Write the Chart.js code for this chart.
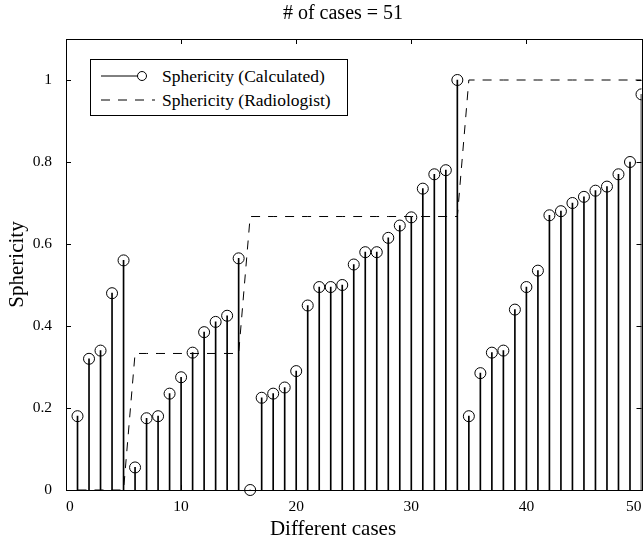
<!DOCTYPE html>
<html>
<head>
<meta charset="utf-8">
<script src="https://cdn.jsdelivr.net/npm/chart.js@4.4.1/dist/chart.umd.min.js"></script>
<style>
  html, body { margin: 0; padding: 0; background: #fff; }
  #wrap { position: relative; width: 643px; height: 542px; }
  #legend {
    position: absolute; left: 90px; top: 59px; width: 256px; height: 55px;
    border: 1px solid #000; background: #fff;
    font-family: "Liberation Serif", "Times New Roman", serif; font-size: 17.5px; color: #000;
  }
  .row { position: absolute; left: 0; height: 20px; width: 100%; }
  .row svg { position: absolute; left: 8px; top: 0; }
  .row span { position: absolute; left: 71px; top: 0; line-height: 20px; white-space: nowrap; }
</style>
</head>
<body>
<div id="wrap">
  <canvas id="c" width="643" height="542"></canvas>
  <div id="legend">
    <div class="row" style="top:6px">
      <svg width="52" height="20"><line x1="2" y1="10" x2="43" y2="10" stroke="#000" stroke-width="1"/><circle cx="43" cy="10" r="4.5" fill="#fff" stroke="#000" stroke-width="1"/></svg>
      <span>Sphericity (Calculated)</span>
    </div>
    <div class="row" style="top:30px">
      <svg width="60" height="20"><line x1="2" y1="10" x2="56" y2="10" stroke="#000" stroke-width="1" stroke-dasharray="9 8"/></svg>
      <span>Sphericity (Radiologist)</span>
    </div>
  </div>
</div>
<script>
// cases 1..50 (axis shows 0..50)
const cases = [1,2,3,4,5,6,7,8,9,10,11,12,13,14,15,16,17,18,19,20,21,22,23,24,25,
  26,27,28,29,30,31,32,33,34,35,36,37,38,39,40,41,42,43,44,45,46,47,48,49,50];
const calculated = [0.18,0.32,0.34,0.48,0.56,0.055,0.175,0.18,0.235,0.275,0.335,0.385,0.41,0.425,0.565,
  0.0,0.225,0.235,0.25,0.29,0.45,0.495,0.495,0.50,0.55,0.58,0.58,0.615,0.645,0.665,0.735,0.77,0.78,1.0,
  0.18,0.285,0.335,0.34,0.44,0.495,0.535,0.67,0.68,0.70,0.715,0.73,0.74,0.77,0.80,0.965];
const radiologist = [0,0,0,0,0,0.333,0.333,0.333,0.333,0.333,0.333,0.333,0.333,0.333,0.333,
  0.667,0.667,0.667,0.667,0.667,0.667,0.667,0.667,0.667,0.667,0.667,0.667,0.667,0.667,0.667,0.667,0.667,0.667,0.667,
  1,1,1,1,1,1,1,1,1,1,1,1,1,1,1,1];
const xTicks = [0,10,20,30,40,50];
const yTicks = [0,0.2,0.4,0.6,0.8,1];
const titleText = '# of cases = 51';
const xLabel = 'Different cases';

const serif = 'Liberation Serif, Times New Roman, serif';
Chart.defaults.font.family = serif;
Chart.defaults.color = '#000';
const pts = arr => cases.map((x, i) => ({x: x, y: arr[i]}));

// box around plot + inward ticks on all four sides
const frame = {
  id: 'frame',
  afterDraw(chart) {
    const {ctx, chartArea: a, scales: {x, y}} = chart;
    ctx.save();
    ctx.strokeStyle = '#000';
    ctx.lineWidth = 1;
    ctx.strokeRect(Math.round(a.left) + 0.5, Math.round(a.top) + 0.5,
      Math.round(a.right - a.left), Math.round(a.bottom - a.top));
    const len = 5;
    ctx.beginPath();
    xTicks.forEach(v => {
      const px = Math.round(x.getPixelForValue(v)) + 0.5;
      ctx.moveTo(px, a.bottom); ctx.lineTo(px, a.bottom - len);
      ctx.moveTo(px, a.top); ctx.lineTo(px, a.top + len);
    });
    yTicks.forEach(v => {
      const py = Math.round(y.getPixelForValue(v)) + 0.5;
      ctx.moveTo(a.left, py); ctx.lineTo(a.left + len, py);
      ctx.moveTo(a.right, py); ctx.lineTo(a.right - len, py);
    });
    ctx.stroke();

    // title and x label, placed as in the original figure
    ctx.fillStyle = '#000';
    ctx.textAlign = 'center';
    ctx.textBaseline = 'middle';
    ctx.font = '20px ' + serif;
    ctx.fillText(titleText, a.left + 277, a.top - 25);
    ctx.font = '21px ' + serif;
    ctx.fillText(xLabel, a.left + 267, a.bottom + 39);
    ctx.restore();
  }
};

new Chart(document.getElementById('c'), {
  type: 'bar',
  data: {
    datasets: [
      {
        type: 'line', label: 'Sphericity (Radiologist)', data: pts(radiologist),
        borderColor: '#000', borderWidth: 1, borderDash: [9, 8], pointRadius: 0,
        fill: false, tension: 0, order: 3
      },
      {
        type: 'bar', label: 'stems', data: pts(calculated),
        backgroundColor: '#000', borderWidth: 0, barThickness: 1, order: 2
      },
      {
        type: 'line', label: 'Sphericity (Calculated)', data: pts(calculated),
        showLine: false, pointStyle: 'circle', pointRadius: 5.5, pointBorderWidth: 1,
        pointBorderColor: '#000', pointBackgroundColor: 'rgba(0,0,0,0)',
        clip: {left: 8, top: 8, right: 0, bottom: 8}, order: 1
      }
    ]
  },
  options: {
    responsive: false,
    animation: false,
    layout: { autoPadding: false, padding: { top: 39, right: 1.5, left: 0, bottom: 0 } },
    plugins: {
      legend: { display: false },
      tooltip: { enabled: false },
      title: { display: false }
    },
    scales: {
      x: {
        type: 'linear', min: 0, max: 50, offset: false,
        grid: { display: false, offset: false },
        border: { display: false },
        afterBuildTicks: s => { s.ticks = xTicks.map(v => ({value: v})); },
        afterFit: s => { s.height = 52; },
        ticks: { color: '#000', font: { size: 15.5 }, padding: 0, maxRotation: 0, align: 'inner' }
      },
      y: {
        min: 0, max: 1.1,
        grid: { display: false },
        border: { display: false },
        afterBuildTicks: s => { s.ticks = yTicks.map(v => ({value: v})); },
        afterFit: s => { s.width = 66; },
        ticks: { color: '#000', font: { size: 15.5 }, padding: 6, callback: v => String(+v.toFixed(1)) },
        title: { display: true, text: 'Sphericity', color: '#000',
          font: { size: 21 }, padding: { top: 5, bottom: 0 } }
      }
    }
  },
  plugins: [frame]
});
</script>
</body>
</html>
